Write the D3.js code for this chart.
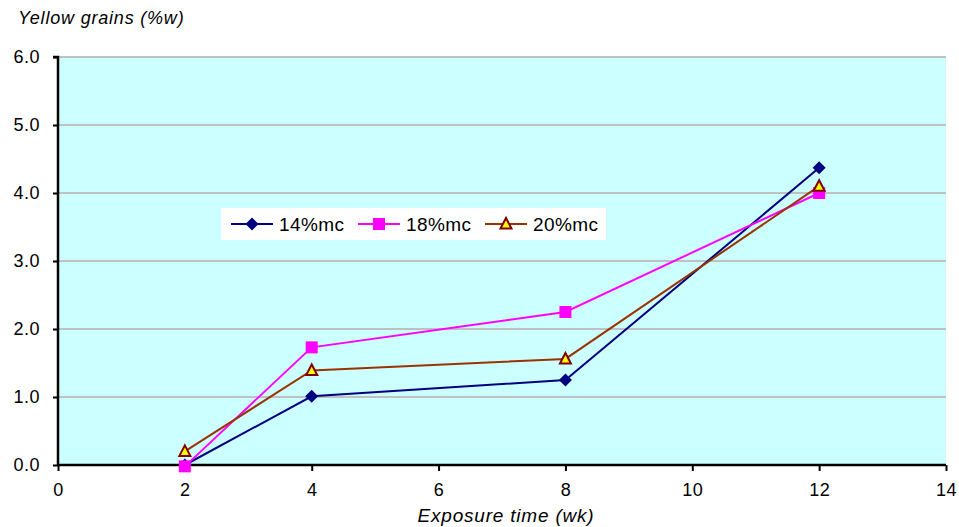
<!DOCTYPE html>
<html>
<head>
<meta charset="utf-8">
<script src="https://cdn.jsdelivr.net/npm/d3@7"></script>
<style>
  body { margin: 0; background: #fff; }
  text { font-family: "Liberation Sans", Arial, sans-serif; }
</style>
</head>
<body>
<div id="canvas"></div>
<script>
// data
const weeks = [2, 4, 8, 12];
const mc14 = [0.0, 1.01, 1.25, 4.37];
const mc18 = [-0.02, 1.73, 2.25, 4.0];
const mc20 = [0.2, 1.39, 1.56, 4.1];
const xTicks = [0, 2, 4, 6, 8, 10, 12, 14];
const yTicks = [0, 1, 2, 3, 4, 5, 6];

const seriesNames = ["14%mc", "18%mc", "20%mc"];

const width = 959, height = 527;
const margin = {top: 57, left: 58, bottom: 62, right: 13};
const iwidth = width - margin.left - margin.right;
const iheight = height - margin.top - margin.bottom;

const svg = d3.select("#canvas").append("svg")
    .attr("width", width)
    .attr("height", height);

const g = svg.append("g").attr("transform", `translate(${margin.left},${margin.top})`);

const x = d3.scaleLinear().domain([0, 14]).range([0, iwidth]);
const y = d3.scaleLinear().domain([0, 6]).range([iheight, 0]);

g.append("rect")
    .attr("width", iwidth)
    .attr("height", iheight)
    .style("fill", "#ccffff");

// grid lines
g.selectAll(".grid").data(yTicks.filter(d => d > 0)).enter().append("line")
    .attr("x1", 0).attr("x2", iwidth)
    .attr("y1", d => y(d)).attr("y2", d => y(d))
    .style("stroke", "#c0c0c0")
    .style("stroke-width", 2);

const xAxis = g.append("g")
    .attr("transform", `translate(0,${iheight})`)
    .call(d3.axisBottom(x).tickValues(xTicks).tickSize(6).tickPadding(12).tickFormat(d3.format("d")));
const yAxis = g.append("g")
    .call(d3.axisLeft(y).tickValues(yTicks).tickSize(5).tickPadding(13).tickFormat(d3.format(".1f")));

[xAxis, yAxis].forEach(a => {
    a.select(".domain").style("stroke", "#000").style("stroke-width", 2.5);
    a.selectAll(".tick line").style("stroke", "#000").style("stroke-width", 2);
    a.selectAll("text").style("font-size", "18px").style("fill", "#000")
        .style("letter-spacing", "0.5px")
        .style("font-family", "'Liberation Sans', Arial, sans-serif");
});
xAxis.select(".domain").attr("d", `M0,0H${iwidth}`);
yAxis.select(".domain").attr("d", `M0,${iheight}V0H-5`);

const line = d3.line().x((d, i) => x(weeks[i])).y(d => y(d));

const styles = [
    {stroke: "#000080", data: mc14},
    {stroke: "#ff00ff", data: mc18},
    {stroke: "#993300", data: mc20}
];

styles.forEach(s => {
    g.append("path").datum(s.data)
        .attr("d", line)
        .style("fill", "none")
        .style("stroke", s.stroke)
        .style("stroke-width", 2);
});

function marker(sel, i) {
    if (i === 0) {
        sel.append("path").attr("d", "M0,-6.5L6.5,0L0,6.5L-6.5,0Z")
            .style("fill", "#000080");
    } else if (i === 1) {
        sel.append("rect").attr("x", -6).attr("y", -6).attr("width", 12).attr("height", 12)
            .style("fill", "#ff00ff");
    } else {
        sel.append("path").attr("d", "M0,-6L5.5,4.5H-5.5Z")
            .style("fill", "#ffff00").style("stroke", "#800000").style("stroke-width", 2);
    }
}

styles.forEach((s, i) => {
    s.data.forEach((v, j) => {
        const m = g.append("g").attr("transform", `translate(${x(weeks[j])},${y(v)})`);
        marker(m, i);
    });
});

// legend
const lg = svg.append("g").attr("transform", "translate(221,208)");
lg.append("rect").attr("width", 385).attr("height", 32).style("fill", "#fff");
const offs = [10, 137, 264];
seriesNames.forEach((n, i) => {
    const it = lg.append("g").attr("transform", `translate(${offs[i]},16)`);
    it.append("line").attr("x1", 0).attr("x2", 42).attr("y1", 0).attr("y2", 0)
        .style("stroke", styles[i].stroke).style("stroke-width", 2);
    const m = it.append("g").attr("transform", "translate(21,0)");
    marker(m, i);
    it.append("text").attr("x", 48).attr("y", 7).text(n)
        .style("font-size", "19px").style("letter-spacing", "0.4px").style("fill", "#000");
});

svg.append("text").attr("x", 18).attr("y", 24)
    .text("Yellow grains (%w)")
    .style("font-size", "18px").style("letter-spacing", "0.8px").style("font-style", "italic");

svg.append("text").attr("x", 506).attr("y", 522)
    .attr("text-anchor", "middle")
    .text("Exposure time (wk)")
    .style("font-size", "19px").style("letter-spacing", "0.8px").style("font-style", "italic");
</script>
</body>
</html>
